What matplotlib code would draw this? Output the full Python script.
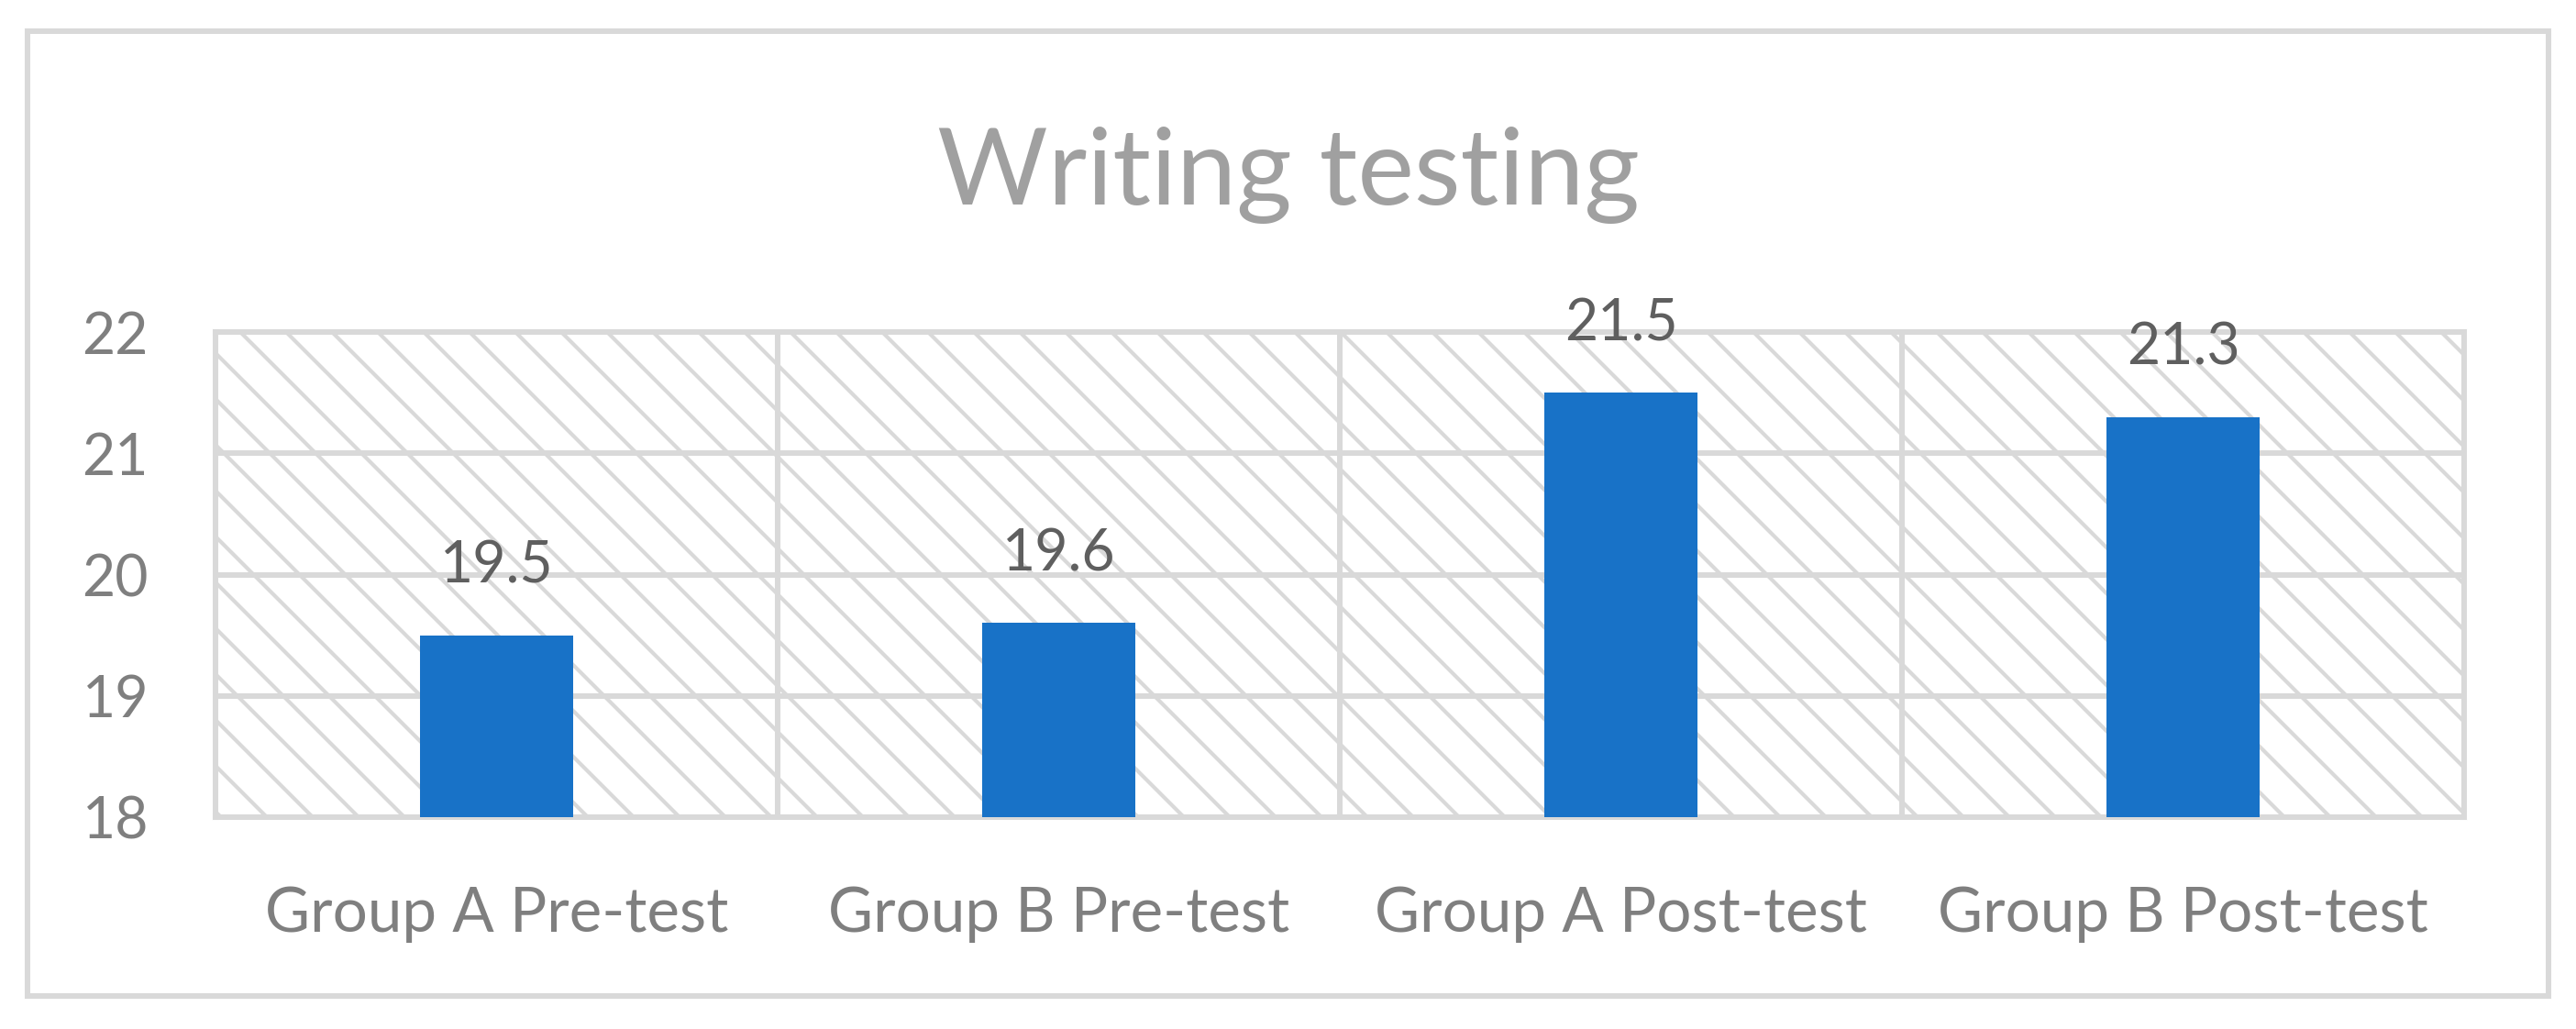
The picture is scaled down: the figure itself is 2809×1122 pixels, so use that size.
import matplotlib
matplotlib.use('Agg')
import matplotlib.pyplot as plt
from matplotlib.patches import Rectangle

# Data
categories = ['Group A Pre-test', 'Group B Pre-test', 'Group A Post-test', 'Group B Post-test']
scores = [19.5, 19.6, 21.5, 21.3]
y_ticks = [18, 19, 20, 21, 22]
title = 'Writing testing'

DPI = 150
GRID = '#D9D9D9'
plt.rcParams['font.family'] = ['Lato', 'DejaVu Sans']
plt.rcParams['hatch.linewidth'] = 2.0
plt.rcParams['hatch.color'] = GRID

fig = plt.figure(figsize=(2809 / DPI, 1122 / DPI), dpi=DPI)
fig.patch.set_facecolor('white')

# Outer chart border
fig.add_artist(Rectangle((0.01068, 0.03209), 0.97864, 0.93761, transform=fig.transFigure,
                         fill=False, edgecolor=GRID, linewidth=2.9))

ax = fig.add_axes([0.08366, 0.20588, 0.87291, 0.47148])
x = list(range(len(categories)))

# Hatched plot area background
ax.add_patch(Rectangle((0, 0), 1, 1, transform=ax.transAxes, facecolor='white',
                       edgecolor=GRID, hatch='\\', linewidth=0, zorder=0))

ax.bar(x, [s - 18 for s in scores], bottom=18, width=0.274, color='#1872C7', zorder=3)

# Value labels above bars
for xi, s in zip(x, scores):
    ax.annotate(f'{s}', (xi, s), xytext=(0, 27.4), textcoords='offset points',
                ha='center', va='baseline', fontsize=30, color='#5F5F5F', zorder=4)

ax.set_xlim(-0.5, len(categories) - 0.5)
ax.set_ylim(18, 22)
ax.set_yticks(y_ticks)
ax.set_xticks(x)
ax.set_xticklabels(categories)

# Grid lines (horizontal values, vertical category boundaries)
for yv in y_ticks[1:-1]:
    ax.axhline(yv, color=GRID, linewidth=2.9, zorder=1)
for xb in [0.5, 1.5, 2.5]:
    ax.axvline(xb, color=GRID, linewidth=2.9, zorder=1)

for sp in ax.spines.values():
    sp.set_color(GRID)
    sp.set_linewidth(2.9)
    sp.set_zorder(2)

ax.tick_params(axis='y', length=0, pad=35, labelsize=30, labelcolor='#7F7F7F')
ax.tick_params(axis='x', length=0, pad=36, labelsize=32.3, labelcolor='#7F7F7F')

fig.text(0.5, 0.8012, title, ha='center', va='baseline', fontsize=56, color='#A0A0A0')

fig.savefig('out.png', dpi=DPI)
